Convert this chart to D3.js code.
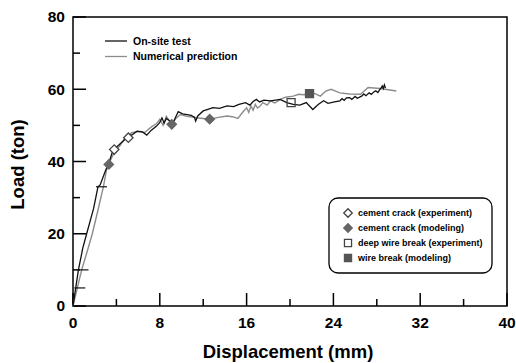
<!DOCTYPE html>
<html>
<head>
<meta charset="utf-8">
<script src="https://cdn.jsdelivr.net/npm/d3@7"></script>
<style>
  body { margin: 0; background: #fff; }
  text { font-family: "Liberation Sans", Arial, sans-serif; font-weight: bold; }
</style>
</head>
<body>
<div id="chart"></div>
<script>
//////////////////////// data ////////////////////////
var xTicks = [0, 8, 16, 24, 32, 40];
var yTicks = [0, 20, 40, 60, 80];
var xMinor = [4, 12, 20, 28, 36];
var yMinor = [10, 30, 50, 70];

var onSite = [[0,0],[0.25,5],[0.5,10],[0.9,16],[1.26,20],[1.9,27],[2.3,33],[2.5,33.5],[3.0,37.5],[3.3,39.5],
  [3.7,43.3],[4.2,44.5],[4.95,46.6],[5.5,47.5],[5.9,48.4],[6.4,48.2],[6.8,47.3],[7.2,48.6],[7.7,49.8],
  [8.0,50.8],[8.2,52.1],[8.4,50.6],[8.6,51.9],[8.9,51.3],[9.2,50.6],[9.5,52.5],[9.7,53.8],[10.1,53.2],
  [10.5,53],[10.9,52.8],[11.2,52.2],[11.3,51.2],[11.5,52.6],[12.0,54],[12.5,54.5],[12.9,54.9],[13.5,54.7],
  [14.2,55.4],[14.8,55.2],[15.3,55.8],[15.9,56.3],[16.3,55.6],[16.6,56.6],[16.9,57.2],[17.2,56.5],
  [17.6,57],[18.2,56.8],[19.1,57.2],[19.7,56.3],[20.3,55.8],[20.9,55.6],[21.5,56.3],[22.1,54.4],
  [22.6,55.8],[23.1,56.8],[23.5,56.1],[24.1,56.5],[24.6,56.8],[24.8,57.4],[25.0,56.9],[25.2,57.6],
  [25.5,57.7],[25.7,57.2],[26.0,58],[26.2,57.5],[26.6,58.1],[26.8,58.7],[27.0,58.2],[27.3,59],
  [27.5,58.6],[27.7,59.2],[27.9,59.6],[28.1,59.1],[28.3,60],[28.4,60.4],[28.5,60.9],[28.6,60.2],[28.7,61.2],[28.8,60.3]];

var prediction = [[0,0],[0.4,5],[0.8,10],[1.3,15],[1.78,20],[2.3,26.5],[2.8,33],[3.1,37.8],[3.4,40],
  [3.8,42.5],[4.3,44.3],[4.8,46.5],[5.4,48],[6.0,48.3],[6.6,48],[7.2,49.5],[7.7,50.5],[8.0,51.7],
  [8.3,50],[8.6,52.5],[9.1,50.3],[9.5,52],[9.9,53],[10.5,52.5],[11.0,52.3],[11.4,52.1],[12.0,51.9],
  [12.6,51.7],[13.4,52.2],[14.2,52.6],[14.7,52.4],[15.2,51.9],[15.6,53.5],[16.0,54.9],[16.2,53.6],
  [16.4,55.4],[16.6,54.2],[16.8,55.8],[17.0,54.8],[17.2,55.2],[17.5,56.3],[17.9,55.6],[18.2,56.8],
  [18.6,56.2],[19.1,57.2],[19.6,57.8],[20.3,58.1],[20.8,58.6],[21.3,58.5],[21.8,59],[22.3,58.8],
  [22.8,58.1],[23.3,59.5],[23.8,60],[24.2,59.5],[24.6,59],[25.5,58.7],[26.5,58.6],[27.2,60.5],
  [28.3,60.2],[29.8,59.5]];

// small horizontal marks on the test curve
var testMarks = [[0.3,5],[0.6,10],[2.3,33]];

var crackExp = [[3.8,43.3],[5.1,46.6]];
var crackModel = [[3.3,39.2],[9.1,50.3],[12.6,51.7]];
var wireExp = [[20.1,56.3]];
var wireModel = [[21.8,58.8]];

var lineLegend = ["On-site test", "Numerical prediction"];
var markerLegend = ["cement crack (experiment)", "cement crack (modeling)", "deep wire break (experiment)", "wire break (modeling)"];

//////////////////////// layout ////////////////////////
var W = 516, H = 363;
var margin = {top: 17, right: 9, bottom: 57, left: 73};
var width = W - margin.left - margin.right,
    height = H - margin.top - margin.bottom;

var svg = d3.select("#chart").append("svg")
  .attr("width", W).attr("height", H);
var g = svg.append("g").attr("transform", "translate(" + margin.left + "," + margin.top + ")");

var x = d3.scaleLinear().domain([0, 40]).range([0, width]);
var y = d3.scaleLinear().domain([0, 80]).range([height, 0]);

// frame
g.append("rect").attr("width", width).attr("height", height)
  .attr("fill", "none").attr("stroke", "#000").attr("stroke-width", 1.5);

// ticks (inward)
var xAxis = g.append("g").attr("transform", "translate(0," + height + ")");
xAxis.selectAll(".maj").data(xTicks).enter().append("line")
  .attr("x1", d => x(d)).attr("x2", d => x(d)).attr("y1", 0).attr("y2", -13)
  .attr("stroke", "#000").attr("stroke-width", 1.5);
xAxis.selectAll(".min").data(xMinor).enter().append("line")
  .attr("x1", d => x(d)).attr("x2", d => x(d)).attr("y1", 0).attr("y2", -7)
  .attr("stroke", "#000").attr("stroke-width", 1.5);
xAxis.selectAll("text").data(xTicks).enter().append("text")
  .attr("x", d => x(d)).attr("y", 22).attr("text-anchor", "middle")
  .attr("font-size", 15.5).text(d => d);

var yAxis = g.append("g");
yAxis.selectAll(".maj").data(yTicks).enter().append("line")
  .attr("x1", 0).attr("x2", 13).attr("y1", d => y(d)).attr("y2", d => y(d))
  .attr("stroke", "#000").attr("stroke-width", 1.5);
yAxis.selectAll(".min").data(yMinor).enter().append("line")
  .attr("x1", 0).attr("x2", 7).attr("y1", d => y(d)).attr("y2", d => y(d))
  .attr("stroke", "#000").attr("stroke-width", 1.5);
yAxis.selectAll("text").data(yTicks).enter().append("text")
  .attr("x", -8).attr("y", d => y(d)).attr("dy", "0.35em").attr("text-anchor", "end")
  .attr("font-size", 15.5).text(d => d);

// axis titles
svg.append("text").attr("x", margin.left + width / 2 - 2).attr("y", 358)
  .attr("text-anchor", "middle").attr("font-size", 18.5).text("Displacement (mm)");
svg.append("text").attr("transform", "translate(24," + (margin.top + height / 2 + 3) + ") rotate(-90)")
  .attr("text-anchor", "middle").attr("font-size", 18.5).text("Load (ton)");

// curves
var line = d3.line().x(d => x(d[0])).y(d => y(d[1]));
g.append("path").datum(prediction).attr("d", line)
  .attr("fill", "none").attr("stroke", "#8c8c8c").attr("stroke-width", 1.4);
g.append("path").datum(onSite).attr("d", line)
  .attr("fill", "none").attr("stroke", "#111").attr("stroke-width", 1.3);
g.selectAll(".tmark").data(testMarks).enter().append("line")
  .attr("x1", d => x(d[0]) - 2).attr("x2", d => x(d[0]) + 9)
  .attr("y1", d => y(d[1])).attr("y2", d => y(d[1]))
  .attr("stroke", "#111").attr("stroke-width", 1.2);

// markers
function drawMarkers(data, fill, stroke, rot) {
  g.selectAll(null).data(data).enter().append("path")
    .attr("d", d3.symbol().type(d3.symbolSquare).size(rot ? 44 : 64)())
    .attr("transform", d => "translate(" + x(d[0]) + "," + y(d[1]) + ")" + (rot ? " rotate(45)" : ""))
    .attr("fill", fill).attr("stroke", stroke).attr("stroke-width", 1.3);
}
drawMarkers(crackExp, "#fff", "#444", true);
drawMarkers(crackModel, "#666", "#666", true);
drawMarkers(wireExp, "none", "#444", false);
drawMarkers(wireModel, "#555", "#555", false);

// line legend
var lg = svg.append("g");
var lineColors = ["#111", "#8c8c8c"];
lineLegend.forEach(function (t, i) {
  var yy = 41 + i * 15.5;
  lg.append("line").attr("x1", 105).attr("x2", 127).attr("y1", yy).attr("y2", yy)
    .attr("stroke", lineColors[i]).attr("stroke-width", 1.3);
  lg.append("text").attr("x", 133).attr("y", yy).attr("dy", "0.35em")
    .attr("font-size", 10.5).text(t);
});

// marker legend
var mg = svg.append("g");
mg.append("rect").attr("x", 329).attr("y", 198).attr("width", 163).attr("height", 75)
  .attr("rx", 9).attr("fill", "#fff").attr("stroke", "#000").attr("stroke-width", 1.3);
var mStyles = [
  {fill: "#fff", stroke: "#444", rot: true},
  {fill: "#666", stroke: "#666", rot: true},
  {fill: "#fff", stroke: "#444", rot: false},
  {fill: "#555", stroke: "#555", rot: false}
];
markerLegend.forEach(function (t, i) {
  var yy = 213 + i * 15;
  var s = mStyles[i];
  mg.append("path").attr("d", d3.symbol().type(d3.symbolSquare).size(s.rot ? 36 : 50)())
    .attr("transform", "translate(348," + yy + ")" + (s.rot ? " rotate(45)" : ""))
    .attr("fill", s.fill).attr("stroke", s.stroke).attr("stroke-width", 1.3);
  mg.append("text").attr("x", 358).attr("y", yy).attr("dy", "0.35em")
    .attr("font-size", 9).text(t);
});
</script>
</body>
</html>
